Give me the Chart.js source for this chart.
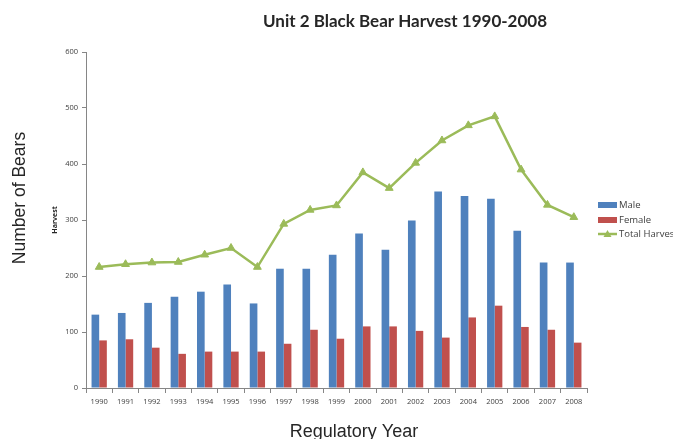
<!DOCTYPE html>
<html>
<head>
<meta charset="utf-8">
<title>Unit 2 Black Bear Harvest 1990-2008</title>
<script src="https://cdn.jsdelivr.net/npm/chart.js@4"></script>
<style>
    html, body { margin: 0; padding: 0; background: #ffffff; overflow: hidden; }
    canvas { display: block; }
</style>
</head>
<body>
<canvas id="harvestChart" width="673" height="439"></canvas>
<script>
const years = ['1990', '1991', '1992', '1993', '1994', '1995', '1996', '1997', '1998', '1999',
    '2000', '2001', '2002', '2003', '2004', '2005', '2006', '2007', '2008'];
const maleHarvest = [131, 134, 152, 163, 172, 185, 151, 213, 213, 238, 276, 247, 299, 351, 343, 338, 281, 224, 224];
const femaleHarvest = [85, 87, 72, 61, 65, 65, 65, 79, 104, 88, 110, 110, 102, 90, 126, 147, 109, 104, 81];
const totalHarvest = [216, 221, 224, 225, 238, 250, 216, 293, 318, 326, 385, 357, 402, 442, 469, 485, 390, 327, 305];
const yTicks = [0, 100, 200, 300, 400, 500, 600];

const MALE_COLOR = '#4F81BD';
const FEMALE_COLOR = '#C0504D';
const TOTAL_COLOR = '#9BBB59';
const AXIS_COLOR = '#868686';
const TEXT_COLOR = '#404040';

// chart title, free-standing axis captions and the legend on the right
const annotations = {
    id: 'annotations',
    afterDraw(chart) {
        const ctx = chart.ctx;
        ctx.save();

        ctx.fillStyle = '#262626';
        ctx.font = 'bold 17px Lato, "Open Sans", sans-serif';
        ctx.textAlign = 'center';
        ctx.textBaseline = 'middle';
        ctx.fillText('Unit 2 Black Bear Harvest 1990-2008', 405, 22);

        ctx.fillStyle = '#262626';
        ctx.font = '18px "Liberation Sans", Arial, sans-serif';
        ctx.textBaseline = 'alphabetic';
        ctx.fillText('Regulatory Year', 354, 437);

        ctx.save();
        ctx.translate(25, 198);
        ctx.rotate(-Math.PI / 2);
        ctx.font = '17.5px "Liberation Sans", Arial, sans-serif';
        ctx.textBaseline = 'alphabetic';
        ctx.fillText('Number of Bears', 0, 0);
        ctx.restore();

        const items = chart.data.datasets;
        const legendX = 598;
        const rowY = [205, 220, 234];
        ctx.font = '9.5px "Open Sans", sans-serif';
        ctx.textAlign = 'left';
        ctx.textBaseline = 'middle';
        items.forEach((ds, i) => {
            const y = rowY[i];
            if (ds.type === 'line') {
                ctx.strokeStyle = ds.borderColor;
                ctx.lineWidth = 2.5;
                ctx.beginPath();
                ctx.moveTo(legendX, y);
                ctx.lineTo(legendX + 19, y);
                ctx.stroke();
                ctx.fillStyle = ds.borderColor;
                ctx.beginPath();
                ctx.moveTo(legendX + 9.5, y - 4);
                ctx.lineTo(legendX + 13.5, y + 3);
                ctx.lineTo(legendX + 5.5, y + 3);
                ctx.closePath();
                ctx.fill();
            } else {
                ctx.fillStyle = ds.backgroundColor;
                ctx.fillRect(legendX, y - 3, 19, 6);
            }
            ctx.fillStyle = TEXT_COLOR;
            ctx.fillText(ds.label, legendX + 21, y);
        });

        ctx.restore();
    },
};

new Chart(document.getElementById('harvestChart'), {
    type: 'bar',
    data: {
        labels: years,
        datasets: [
            {
                label: 'Male',
                data: maleHarvest,
                backgroundColor: MALE_COLOR,
                categoryPercentage: 0.58,
                barPercentage: 1.0,
                order: 2,
            },
            {
                label: 'Female',
                data: femaleHarvest,
                backgroundColor: FEMALE_COLOR,
                categoryPercentage: 0.58,
                barPercentage: 1.0,
                order: 2,
            },
            {
                type: 'line',
                label: 'Total Harvest',
                data: totalHarvest,
                borderColor: TOTAL_COLOR,
                backgroundColor: TOTAL_COLOR,
                borderWidth: 2.5,
                tension: 0,
                pointStyle: 'triangle',
                pointRadius: 4.5,
                pointBackgroundColor: TOTAL_COLOR,
                pointBorderColor: TOTAL_COLOR,
                pointBorderWidth: 1,
                order: 1,
            },
        ],
    },
    options: {
        responsive: false,
        animation: false,
        layout: {
            padding: { top: 52, right: 86, bottom: 0, left: 0 },
        },
        plugins: {
            legend: { display: false },
            tooltip: { enabled: false },
        },
        scales: {
            x: {
                grid: {
                    display: true,
                    drawOnChartArea: false,
                    drawTicks: true,
                    tickLength: 5,
                    color: AXIS_COLOR,
                },
                border: { display: true, color: AXIS_COLOR, width: 1 },
                ticks: {
                    color: TEXT_COLOR,
                    font: { family: '"Open Sans", sans-serif', size: 7.5 },
                    padding: 4,
                    maxRotation: 0,
                    autoSkip: false,
                },
                afterFit: (scale) => {
                    scale.height = 51;
                },
            },
            y: {
                min: 0,
                max: 600,
                afterBuildTicks: (scale) => {
                    scale.ticks = yTicks.map((v) => ({ value: v }));
                },
                grid: {
                    display: true,
                    drawOnChartArea: false,
                    drawTicks: true,
                    tickLength: 4,
                    color: AXIS_COLOR,
                },
                border: { display: true, color: AXIS_COLOR, width: 1 },
                ticks: {
                    color: TEXT_COLOR,
                    font: { family: '"Open Sans", sans-serif', size: 7.5 },
                    padding: 4,
                },
                title: {
                    display: true,
                    text: 'Harvest',
                    color: '#262626',
                    font: { family: '"Open Sans", sans-serif', size: 7, weight: 'bold' },
                    padding: { top: 51, bottom: 0 },
                },
                afterFit: (scale) => {
                    scale.width = 86;
                },
            },
        },
    },
    plugins: [annotations],
});
</script>
</body>
</html>
